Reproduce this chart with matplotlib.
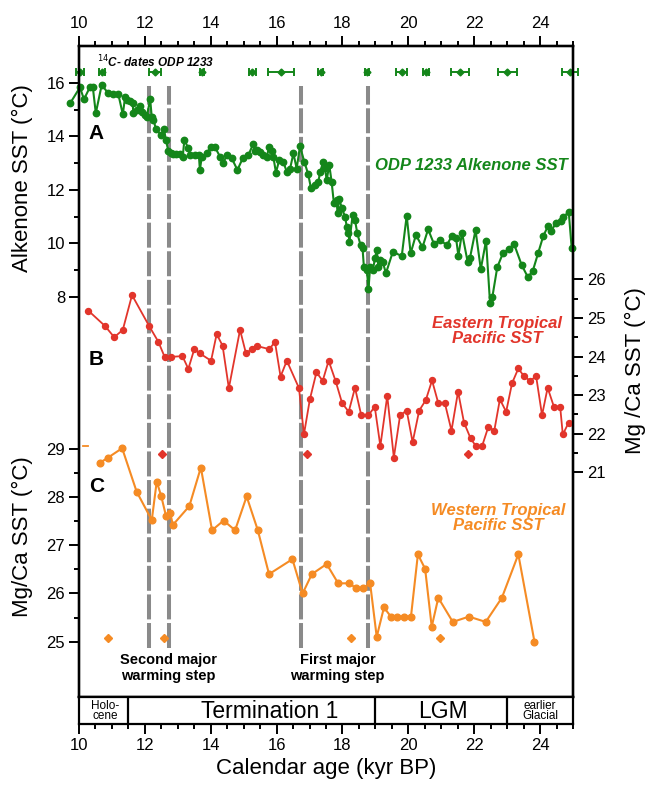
import matplotlib.pyplot as plt
from matplotlib.ticker import MultipleLocator, FixedLocator

plt.rcParams['font.family'] = ['Liberation Sans', 'DejaVu Sans']

# ODP 1233 alkenone SST (deg C) against calendar age (kyr BP)
alk_age = [9.74, 10.03, 10.15, 10.33, 10.42, 10.51, 10.69, 10.89, 11.04, 11.19,
           11.33, 11.40, 11.45, 11.55, 11.63, 11.65, 11.75, 11.85, 11.90, 12.00,
           12.06, 12.16, 12.21, 12.26, 12.34, 12.49, 12.58, 12.64, 12.71, 12.78,
           12.86, 12.96, 13.07, 13.15, 13.20, 13.32, 13.37, 13.52, 13.64, 13.67,
           13.73, 13.88, 14.00, 14.13, 14.28, 14.36, 14.50, 14.64, 14.81, 14.97,
           15.14, 15.29, 15.34, 15.40, 15.50, 15.60, 15.70, 15.78, 15.85, 15.90,
           15.98, 16.08, 16.20, 16.31, 16.41, 16.51, 16.61, 16.71, 16.84, 16.96,
           17.04, 17.17, 17.27, 17.32, 17.42, 17.47, 17.52, 17.60, 17.67, 17.74,
           17.82, 17.85, 17.90, 17.98, 18.08, 18.13, 18.18, 18.21, 18.31, 18.38,
           18.45, 18.55, 18.61, 18.65, 18.74, 18.79, 18.84, 18.92, 18.99, 19.04,
           19.09, 19.14, 19.22, 19.32, 19.53, 19.80, 19.95, 20.07, 20.23, 20.43,
           20.60, 20.78, 20.96, 21.17, 21.32, 21.45, 21.52, 21.63, 21.80, 21.87,
           22.04, 22.20, 22.36, 22.48, 22.55, 22.70, 22.87, 23.05, 23.21, 23.44,
           23.63, 23.78, 23.94, 24.10, 24.25, 24.33, 24.49, 24.64, 24.71, 24.87,
           24.96]
alk_sst = [15.26, 15.84, 15.39, 15.84, 15.84, 14.87, 15.93, 15.61, 15.58, 15.60,
           14.83, 15.47, 15.36, 15.34, 15.24, 14.87, 14.99, 15.14, 14.93, 14.80,
           14.74, 15.40, 14.72, 14.62, 14.27, 14.06, 14.27, 13.87, 13.47, 13.37,
           13.36, 13.36, 13.36, 13.25, 13.87, 13.56, 13.30, 13.30, 13.30, 12.75,
           13.25, 13.37, 13.62, 13.60, 13.25, 13.00, 13.30, 13.18, 12.75, 13.18,
           13.30, 13.72, 13.45, 13.50, 13.43, 13.30, 13.25, 13.62, 13.45, 13.25,
           12.65, 13.12, 13.06, 12.68, 12.80, 13.37, 12.80, 13.64, 13.06, 12.59,
           12.09, 12.19, 12.31, 12.68, 13.06, 12.81, 12.37, 12.93, 12.31, 11.50,
           11.63, 11.15, 11.68, 11.32, 11.00, 10.63, 10.40, 10.07, 11.07, 10.88,
           10.38, 9.94, 9.82, 9.13, 9.01, 8.29, 9.13, 9.01, 9.45, 9.76,
           9.13, 9.38, 9.32, 8.89, 9.69, 9.53, 11.04, 9.63, 10.32, 9.86,
           10.53, 9.98, 10.13, 9.94, 10.28, 10.19, 9.54, 10.40, 9.32, 9.45,
           10.50, 9.04, 10.11, 7.79, 7.99, 9.11, 9.63, 9.80, 9.98, 9.20,
           8.74, 8.98, 9.63, 10.29, 10.67, 10.46, 10.77, 10.84, 10.98, 11.19,
           9.83]

# 14C dates for ODP 1233 (age, 1 sigma)
c14_age = [10.03, 10.71, 12.31, 13.73, 15.26, 16.13, 17.34, 18.74, 19.80, 20.54,
           21.57, 23.01, 24.91]
c14_err = [0.12, 0.09, 0.17, 0.07, 0.10, 0.40, 0.07, 0.07, 0.17, 0.10,
           0.26, 0.28, 0.25]

# Eastern Tropical Pacific Mg/Ca SST
east_age = [10.28, 10.79, 11.07, 11.33, 11.61, 12.13, 12.41, 12.60, 12.78, 13.14,
            13.32, 13.50, 13.67, 14.01, 14.18, 14.36, 14.55, 14.89, 15.07, 15.24,
            15.41, 15.78, 15.95, 16.12, 16.31, 16.68, 16.83, 17.01, 17.21, 17.40,
            17.58, 17.79, 17.99, 18.19, 18.38, 18.57, 18.79, 18.98, 19.15, 19.36,
            19.56, 19.75, 19.95, 20.13, 20.33, 20.53, 20.72, 20.91, 21.11, 21.31,
            21.51, 21.69, 21.89, 22.05, 22.24, 22.43, 22.61, 22.78, 22.97, 23.15,
            23.34, 23.51, 23.70, 23.88, 24.06, 24.23, 24.42, 24.61, 24.69, 24.87]
east_sst = [25.19, 24.79, 24.50, 24.69, 25.59, 24.79, 24.38, 23.99, 23.99, 24.01,
            23.68, 24.19, 24.08, 23.89, 24.58, 24.28, 23.18, 24.69, 24.08, 24.19,
            24.27, 24.19, 24.38, 23.48, 23.89, 23.18, 21.98, 22.89, 23.59, 23.37,
            23.89, 23.37, 22.79, 22.57, 23.19, 22.48, 22.48, 22.70, 21.68, 22.98,
            21.38, 22.48, 22.60, 21.78, 22.60, 22.87, 23.38, 22.79, 22.79, 22.08,
            23.09, 22.29, 21.88, 21.68, 21.68, 22.18, 22.08, 22.89, 22.57, 23.31,
            23.69, 23.49, 23.37, 23.49, 22.48, 23.19, 22.70, 22.70, 21.98, 22.29]
east_ctrl_age = [12.53, 16.93, 21.80]

# Western Tropical Pacific Mg/Ca SST
west_age = [10.64, 10.87, 11.31, 11.75, 12.21, 12.36, 12.50, 12.64, 12.77, 12.85,
            13.35, 13.70, 14.04, 14.39, 14.74, 15.09, 15.43, 15.77, 16.48, 16.79,
            17.07, 17.52, 17.87, 18.21, 18.41, 18.63, 18.84, 19.04, 19.26, 19.47,
            19.67, 19.88, 20.08, 20.29, 20.51, 20.71, 20.91, 21.35, 21.84, 22.35,
            22.84, 23.34, 23.83]
west_sst = [28.71, 28.81, 29.01, 28.11, 27.52, 28.32, 28.01, 27.61, 27.67, 27.42,
            27.81, 28.61, 27.31, 27.51, 27.31, 28.01, 27.31, 26.40, 26.71, 26.00,
            26.40, 26.61, 26.21, 26.21, 26.11, 26.11, 26.21, 25.10, 25.71, 25.52,
            25.52, 25.52, 25.52, 26.81, 26.51, 25.31, 25.91, 25.41, 25.52, 25.41,
            25.91, 26.81, 25.00]
west_stub_age = [10.12, 10.27]
west_stub_sst = [29.05, 29.05]
west_ctrl_age = [10.89, 12.59, 18.25, 20.96]

warming_steps = [12.13, 12.74, 16.75, 18.79]

stage_edges = [11.5, 19.0, 23.0]
stage_names = ['Holo-\ncene', 'Termination 1', 'LGM', 'earlier\nGlacial']
stage_label_x = [10.8, 15.8, 21.05, 24.0]
stage_sizes = [8.5, 16.5, 16.5, 8.5]

GREEN = '#14861a'
RED = '#e2352b'
ORANGE = '#f58b24'
GREY = '#8a8a8a'

W, H = 646, 787
fig = plt.figure(figsize=(W / 100, H / 100), dpi=100)


def box(l, t, r, b):
    return [l / W, 1 - b / H, (r - l) / W, (b - t) / H]


ax = fig.add_axes(box(79, 46, 573, 697))
axe = ax.twinx()
axw = ax.twinx()
sax = fig.add_axes(box(79, 697, 573, 724))

ax.set_xlim(10, 25)
ax.set_ylim(-6.953, 17.383)
axe.set_ylim(15.179, 32.044)
axw.set_ylim(23.854, 37.346)

for a in (ax, axe, axw, sax):
    for s in a.spines.values():
        s.set_linewidth(1.6)
    a.tick_params(which='both', direction='out', width=1.4, labelsize=12, pad=3)
    a.tick_params(which='major', length=7)
    a.tick_params(which='minor', length=3.5)

# top age axis
ax.xaxis.tick_top()
ax.xaxis.set_major_locator(MultipleLocator(2))
ax.xaxis.set_minor_locator(MultipleLocator(0.5))
ax.tick_params(axis='x', which='major', pad=4)

ax.yaxis.set_major_locator(FixedLocator([8, 10, 12, 14, 16]))
ax.yaxis.set_minor_locator(FixedLocator([9, 11, 13, 15]))

axe.yaxis.set_major_locator(FixedLocator([21, 22, 23, 24, 25, 26]))
axe.yaxis.set_minor_locator(FixedLocator([21.5, 22.5, 23.5, 24.5, 25.5]))

axw.yaxis.tick_left()
axw.yaxis.set_major_locator(FixedLocator([25, 26, 27, 28, 29]))
axw.yaxis.set_minor_locator(FixedLocator([25.5, 26.5, 27.5, 28.5]))

# warming steps
for x in warming_steps:
    ax.axvline(x, ymin=0.0753, ymax=0.9386, color=GREY, lw=2.9,
               dashes=(6.2, 0.9), zorder=1)

ax.plot(alk_age, alk_sst, '-o', color=GREEN, lw=1.5, ms=4.6, zorder=3, clip_on=False)
ax.errorbar(c14_age, [16.4] * len(c14_age), xerr=c14_err, fmt='D', ms=3.5,
            color=GREEN, ecolor=GREEN, elinewidth=1.4, capsize=3, capthick=1.4,
            zorder=3, clip_on=False)

axe.plot(east_age, east_sst, '-o', color=RED, lw=1.3, ms=4.3, zorder=3)
axe.plot(east_ctrl_age, [21.47] * len(east_ctrl_age), 'D', color=RED, ms=4.5)

axw.plot(west_age, west_sst, '-o', color=ORANGE, lw=1.5, ms=4.8, zorder=3)
axw.plot(west_stub_age, west_stub_sst, '-', color=ORANGE, lw=1.3)
axw.plot(west_ctrl_age, [25.07] * len(west_ctrl_age), 'D', color=ORANGE, ms=4.5)

# axis labels
ax.set_ylabel('Alkenone SST (°C)', fontsize=16)
axw.set_ylabel('Mg/Ca SST (°C)', fontsize=16)
axw.yaxis.set_label_position('left')
axe.set_ylabel('Mg /Ca SST (°C)', fontsize=16)
for a, xy in ((ax, (-0.115, 0.797)), (axw, (-0.115, 0.247)), (axe, (1.127, 0.502))):
    a.yaxis.set_label_coords(*xy)
    a.yaxis.label.set_verticalalignment('center')

# panel letters and series names
for letter, y in (('A', 0.866), ('B', 0.519), ('C', 0.324)):
    ax.text(0.035, y, letter, transform=ax.transAxes, fontsize=15,
            fontweight='bold', ha='center', va='center')

ax.text(0.037, 0.975, '$^{14}$C- dates ODP 1233', transform=ax.transAxes,
        fontsize=8.5, fontweight='bold', fontstyle='italic', va='center')
ax.text(0.989, 0.8157, 'ODP 1233 Alkenone SST', transform=ax.transAxes,
        fontsize=12, fontweight='bold', fontstyle='italic', color=GREEN,
        ha='right', va='center')
ax.text(0.847, 0.562, 'Eastern Tropical\nPacific SST', transform=ax.transAxes,
        fontsize=12, fontweight='bold', fontstyle='italic', color=RED,
        ha='center', va='center', multialignment='center', linespacing=1.05)
ax.text(0.848, 0.275, 'Western Tropical\nPacific SST', transform=ax.transAxes,
        fontsize=12, fontweight='bold', fontstyle='italic', color=ORANGE,
        ha='center', va='center', multialignment='center', linespacing=1.05)

ax.text(12.71, 0.0445, 'Second major\nwarming step', transform=ax.get_xaxis_transform(),
        fontsize=10.5, fontweight='bold', ha='center', va='center', linespacing=1.2)
ax.text(17.85, 0.0445, 'First major\nwarming step', transform=ax.get_xaxis_transform(),
        fontsize=10.5, fontweight='bold', ha='center', va='center', linespacing=1.2)

# stage bar with bottom age axis
sax.set_xlim(10, 25)
sax.set_ylim(0, 1)
sax.set_yticks([])
sax.xaxis.set_major_locator(MultipleLocator(2))
sax.xaxis.set_minor_locator(MultipleLocator(0.5))
for x in stage_edges:
    sax.axvline(x, color='black', lw=1.6)
for name, x, fs in zip(stage_names, stage_label_x, stage_sizes):
    sax.text(x, 0.47, name, fontsize=fs, ha='center', va='center',
             linespacing=0.8)
sax.set_xlabel('Calendar age (kyr BP)', fontsize=16, labelpad=4)

fig.savefig('out.png', dpi=100)
